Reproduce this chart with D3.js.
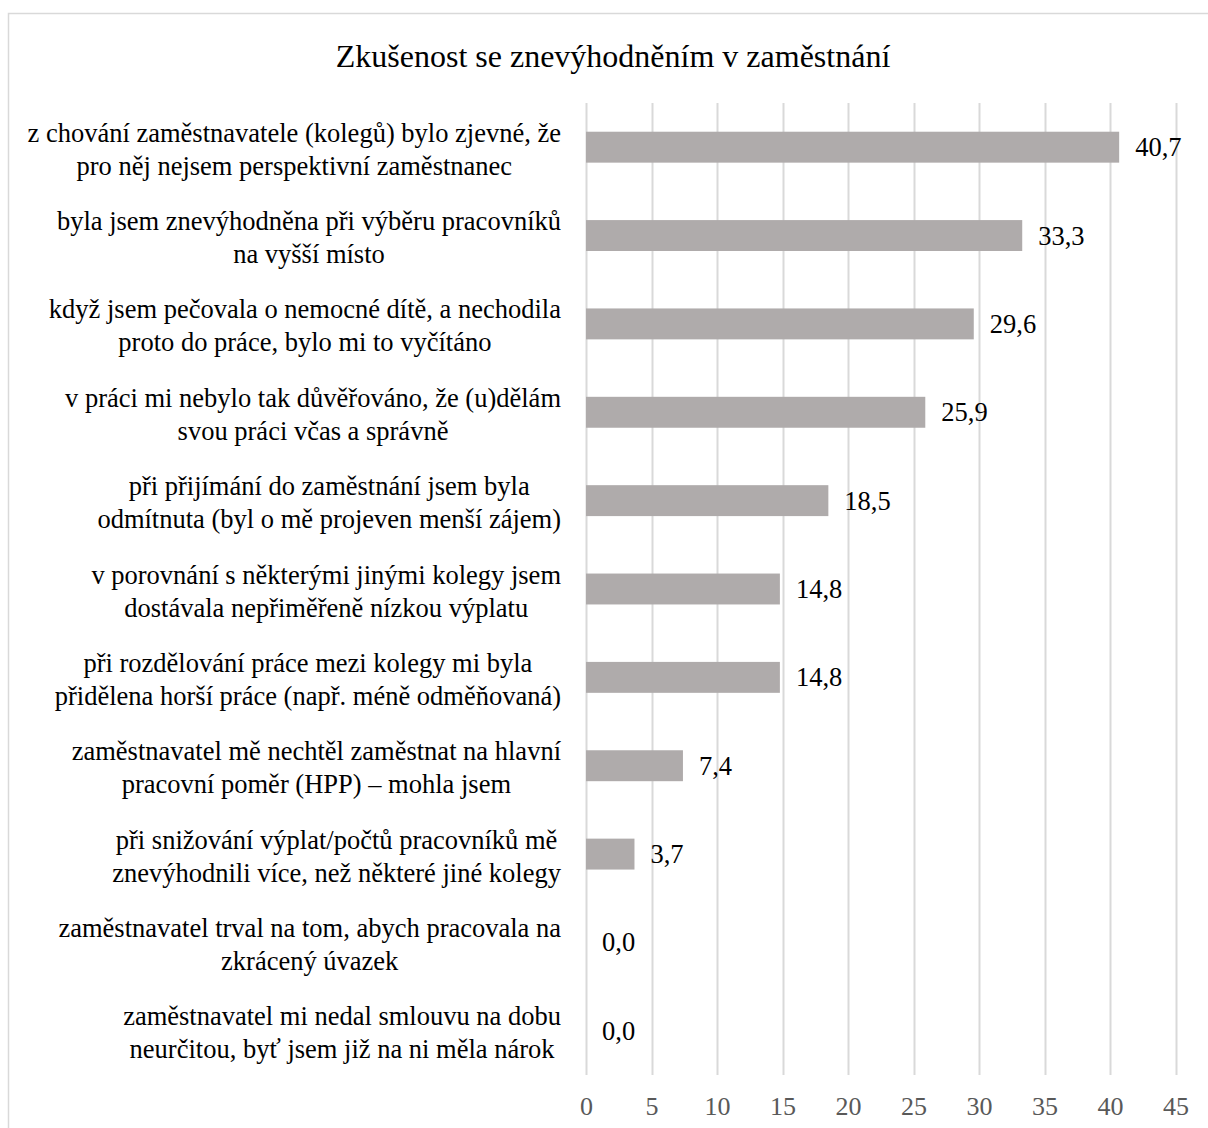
<!DOCTYPE html>
<html>
<head>
<meta charset="utf-8">
<script src="https://cdn.jsdelivr.net/npm/d3@7"></script>
<style>
  html, body { margin: 0; padding: 0; background: #fff; }
  svg { display: block; }
  text { font-family: "Liberation Serif", "Times New Roman", serif; }
</style>
</head>
<body>
<script>
// Survey categories (top to bottom), line breaks marked with \n
const categories = [
  "z chování zaměstnavatele (kolegů) bylo zjevné, že\npro něj nejsem perspektivní zaměstnanec",
  "byla jsem znevýhodněna při výběru pracovníků\nna vyšší místo",
  "když jsem pečovala o nemocné dítě, a nechodila\nproto do práce, bylo mi to vyčítáno",
  "v práci mi nebylo tak důvěřováno, že (u)dělám\nsvou práci včas a správně",
  "při přijímání do zaměstnání jsem byla\nodmítnuta (byl o mě projeven menší zájem)",
  "v porovnání s některými jinými kolegy jsem\ndostávala nepřiměřeně nízkou výplatu",
  "při rozdělování práce mezi kolegy mi byla\npřidělena horší práce (např. méně odměňovaná)",
  "zaměstnavatel mě nechtěl zaměstnat na hlavní\npracovní poměr (HPP) – mohla jsem",
  "při snižování výplat/počtů pracovníků mě\nznevýhodnili více, než některé jiné kolegy",
  "zaměstnavatel trval na tom, abych pracovala na\nzkrácený úvazek",
  "zaměstnavatel mi nedal smlouvu na dobu\nneurčitou, byť jsem již na ni měla nárok"
];
// Share of respondents (%)
const values = [40.7, 33.3, 29.6, 25.9, 18.5, 14.8, 14.8, 7.4, 3.7, 0.0, 0.0];
const xTicks = [0, 5, 10, 15, 20, 25, 30, 35, 40, 45];
const title = "Zkušenost se znevýhodněním v zaměstnání";

const W = 1208, H = 1128;
const plot = { left: 586, right: 1175.5, top: 103, bottom: 1075 };
const FONT = 26.5;

const svg = d3.select("body").append("svg")
  .attr("width", W).attr("height", H);

// chart frame
svg.append("rect")
  .attr("x", 8.5).attr("y", 13.5)
  .attr("width", W + 10).attr("height", H + 10)
  .attr("fill", "#fff").attr("stroke", "#D9D9D9").attr("stroke-width", 1.5);

svg.append("text")
  .attr("x", 613).attr("y", 56)
  .attr("text-anchor", "middle").attr("dominant-baseline", "central")
  .attr("font-size", 32).attr("fill", "#000")
  .text(title);

const x = d3.scaleLinear().domain([0, 45]).range([plot.left, plot.right]);
const y = d3.scaleBand().domain(d3.range(categories.length))
  .range([plot.top, plot.bottom]).paddingInner(0.65).paddingOuter(0.325);

// vertical gridlines
svg.append("g").selectAll("line").data(xTicks).join("line")
  .attr("x1", d => Math.round(x(d)) + 0.5).attr("x2", d => Math.round(x(d)) + 0.5)
  .attr("y1", plot.top).attr("y2", plot.bottom)
  .attr("stroke", "#D9D9D9").attr("stroke-width", 2);

// bottom axis labels
const xAxis = d3.axisBottom(x).tickValues(xTicks).tickSize(0).tickPadding(0)
  .tickFormat(d3.format("d"));
const gx = svg.append("g").attr("transform", `translate(0, 1106)`).call(xAxis);
gx.select(".domain").remove();
gx.selectAll("text")
  .attr("font-family", "'Liberation Serif', 'Times New Roman', serif")
  .attr("font-size", 26).attr("fill", "#595959")
  .attr("dy", null).attr("y", 0)
  .attr("dominant-baseline", "central");

// bars
svg.append("g").selectAll("rect").data(values).join("rect")
  .attr("x", x(0))
  .attr("y", (d, i) => y(i))
  .attr("width", d => x(d) - x(0))
  .attr("height", y.bandwidth())
  .attr("fill", "#AFABAB");

// value labels
const fmt = v => d3.format(".1f")(v).replace(".", ",");
svg.append("g").selectAll("text").data(values).join("text")
  .attr("x", d => x(d) + 16)
  .attr("y", (d, i) => y(i) + y.bandwidth() / 2)
  .attr("dominant-baseline", "central")
  .attr("font-size", FONT).attr("fill", "#000")
  .text(fmt);

// category labels: each block centred, block right edge aligned at 561
const labelRight = 561, lineH = 33;
const lg = svg.append("g");
categories.forEach((c, i) => {
  const lines = c.split("\n");
  const cy = y(i) + y.bandwidth() / 2 + 2;
  const t = lg.append("text")
    .attr("font-size", FONT).attr("fill", "#000")
    .attr("text-anchor", "middle").attr("dominant-baseline", "central");
  const spans = lines.map((ln, k) => t.append("tspan")
    .attr("y", cy + (k - (lines.length - 1) / 2) * lineH)
    .text(ln));
  const maxW = d3.max(spans, s => s.node().getComputedTextLength());
  spans.forEach(s => s.attr("x", labelRight - maxW / 2));
});
</script>
</body>
</html>
